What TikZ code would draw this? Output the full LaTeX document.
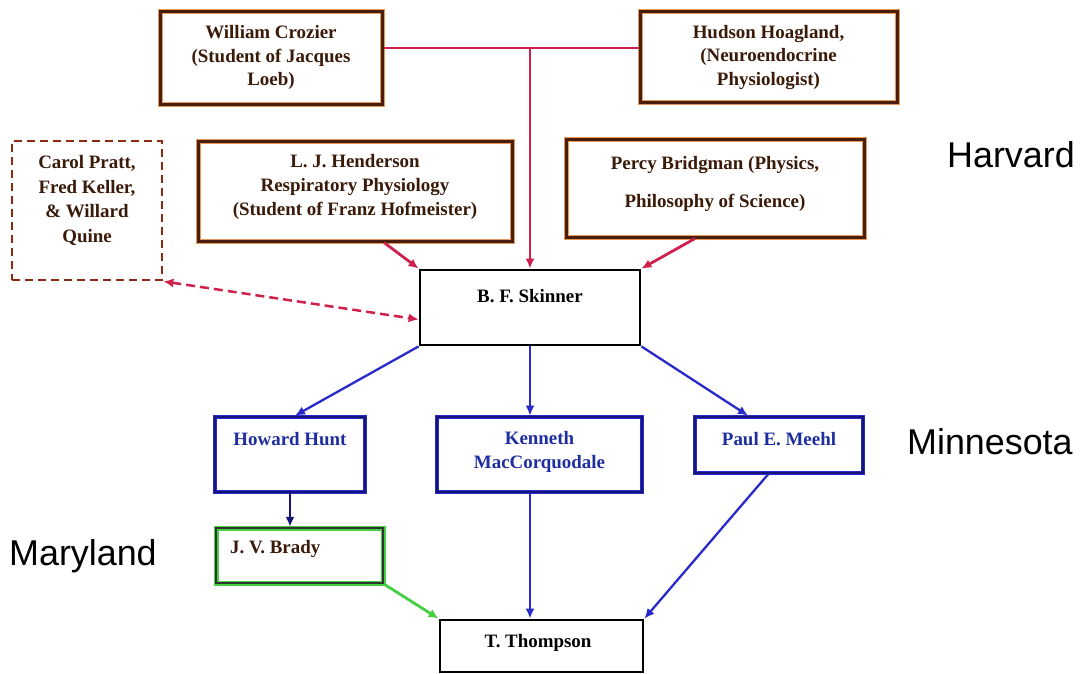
\documentclass[tikz,border=0pt]{standalone}
\usepackage{fontspec}
\setmainfont{Liberation Serif}
\setsansfont{Liberation Sans}
\usetikzlibrary{arrows.meta}
\definecolor{brn}{HTML}{4A1E0C}
\definecolor{glow}{HTML}{E89858}
\definecolor{brtxt}{HTML}{3A1A08}
\definecolor{redl}{HTML}{D0204C}
\definecolor{dred}{HTML}{8C2A14}
\definecolor{bluel}{HTML}{2A2ACC}
\definecolor{navy}{HTML}{14147A}
\definecolor{btxt}{HTML}{1E2EA0}
\definecolor{grn}{HTML}{44D040}
\begin{document}
\begin{tikzpicture}[x=1bp,y=-1bp,
  every node/.style={inner sep=0pt},
  txt/.style={font=\fontsize{19}{24}\selectfont\bfseries, align=center},
  toptxt/.style={txt, text=brtxt},
  bluetxt/.style={txt, text=btxt},
  place/.style={font=\fontsize{36}{40}\sffamily, text=black, anchor=west},
  topbox/.style={draw=brn, line width=3bp, preaction={draw=glow, line width=5bp}},
  dbox/.style={draw=dred, line width=2.8bp, dash pattern=on 8bp off 5bp},
  blackbox/.style={draw=black, line width=2.8bp},
  bluebox/.style={draw=navy, line width=2.8bp, preaction={draw=bluel, line width=4.5bp}},
  greenbox/.style={draw=black!80, line width=2.5bp, preaction={draw=grn, line width=5bp}},
  tip/.style={-{Latex[length=10bp,width=9bp]}},
  redarr/.style={draw=redl, line width=2.8bp},
  bluearr/.style={draw=bluel, line width=2.3bp},
]
\useasboundingbox[fill=white] (0,0) rectangle (1081,674);

% top boxes
\node[topbox, minimum width=222bp, minimum height=93bp] (cro) at (271,58.5) {};
\node[toptxt] (crot) at (271,57.5) {William Crozier\\(Student of Jacques\\Loeb)};
\node[topbox, minimum width=257bp, minimum height=91bp] (hud) at (768.5,57.5) {};
\node[toptxt] (hudt) at (768.5,57.5) {Hudson Hoagland,\\(Neuroendocrine\\Physiologist)};

\node[dbox, minimum width=150bp, minimum height=139bp] (ppl) at (87,210.5) {};
\node[toptxt, font=\fontsize{19}{25}\selectfont\bfseries] (pplt) at (87,200.5) {Carol Pratt,\\Fred Keller,\\\& Willard\\Quine};

\node[topbox, minimum width=314bp, minimum height=99bp] (hen) at (355,191.5) {};
\node[toptxt] (hent) at (355,187) {L. J. Henderson\\Respiratory Physiology\\(Student of Franz Hofmeister)};

\node[topbox, minimum width=298bp, minimum height=97bp] (per) at (715,188.5) {};
\node[toptxt, font=\fontsize{19}{38}\selectfont\bfseries] (pert) at (715,184) {Percy Bridgman (Physics,\\Philosophy of Science)};

% Skinner
\node[blackbox, minimum width=220bp, minimum height=75bp] (sk) at (530,307.5) {};
\node[txt] (skt) at (530,296) {B. F. Skinner};

% Minnesota row
\node[bluebox, minimum width=150bp, minimum height=75bp] (how) at (290,454.5) {};
\node[bluetxt] (howt) at (290,439) {Howard Hunt};
\node[bluebox, minimum width=205bp, minimum height=75bp] (ken) at (539.5,454.5) {};
\node[bluetxt] (kent) at (539.5,451.5) {Kenneth\\MacCorquodale};
\node[bluebox, minimum width=168bp, minimum height=56bp] (pau) at (779,445) {};
\node[bluetxt] (paut) at (779,439) {Paul E. Meehl};

% bottom
\node[greenbox, minimum width=167bp, minimum height=55bp] (bra) at (299.5,555.5) {};
\node[txt, text=brtxt, anchor=west] (brat) at (230,549) {J. V. Brady};
\node[blackbox, minimum width=203bp, minimum height=52bp] (tho) at (541.5,646) {};
\node[txt] (thot) at (538,643) {T. Thompson};

% place labels
\node[place] (harv) at (947,155) {Harvard};
\node[place] (minn) at (907,442) {Minnesota};
\node[place] (mary) at (9,556) {Maryland};

% red connectors
\coordinate (j) at (530,48);
\draw[redarr] (cro.east |- j) -- (hud.west |- j);
\draw[redarr, tip] (j) -- (sk.north);
\draw[redarr, tip] ([xshift=29bp]hen.south) -- (sk.north west);
\draw[redarr, tip] ([xshift=-20bp]per.south) -- (sk.north east);
\draw[redarr, line width=2.5bp, dash pattern=on 9bp off 5bp, {Latex[length=10bp,width=9bp]}-{Latex[length=10bp,width=9bp]}] (ppl.south east) -- ([yshift=-12bp]sk.west);

% blue connectors
\draw[bluearr, tip] (sk.south west) -- ([xshift=5bp]how.north);
\draw[bluearr, tip] (sk.south) -- (sk.south |- ken.north);
\draw[bluearr, tip] (sk.south east) -- ([xshift=-31bp]pau.north);
\draw[draw=navy, line width=2.5bp, tip] (how.south) -- (how.south |- bra.north);
\draw[draw=grn, line width=2.8bp, tip] (bra.south east) -- (tho.north west);
\draw[bluearr, tip] (sk.south |- ken.south) -- (sk.south |- tho.north);
\draw[bluearr, tip] ([xshift=-11bp]pau.south) -- (tho.north east);
\end{tikzpicture}
\end{document}
